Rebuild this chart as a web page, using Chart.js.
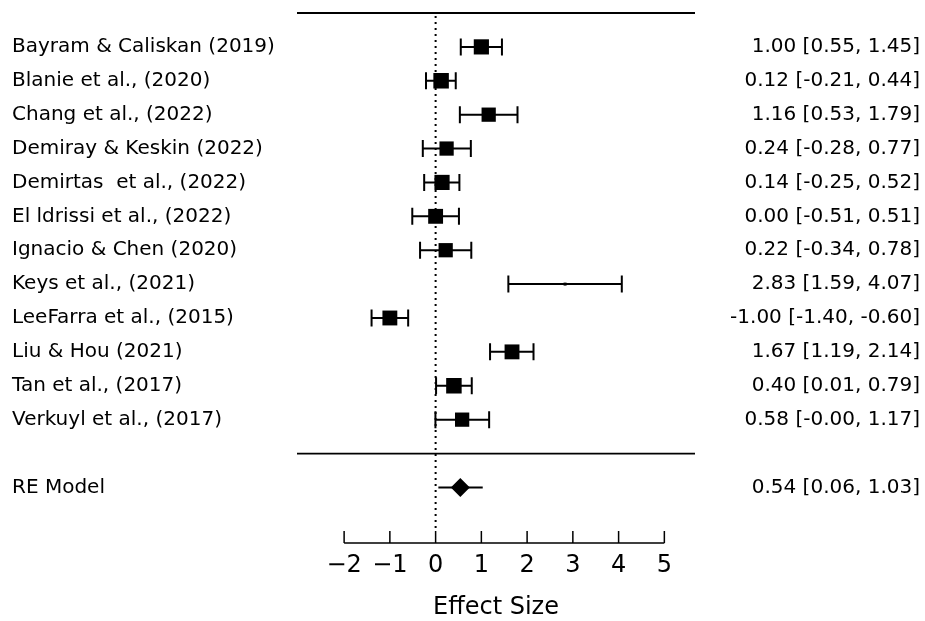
<!DOCTYPE html>
<html>
<head>
<meta charset="utf-8">
<script src="https://cdn.jsdelivr.net/npm/chart.js@4"></script>
<style>
  html, body { margin: 0; padding: 0; background: #fff; }
  canvas { display: block; }
</style>
</head>
<body>
<canvas id="forest" width="925" height="621"></canvas>
<script>
const studies = [
  "Bayram & Caliskan (2019)", "Blanie et al., (2020)", "Chang et al., (2022)",
  "Demiray & Keskin (2022)", "Demirtas  et al., (2022)", "El ldrissi et al., (2022)",
  "Ignacio & Chen (2020)", "Keys et al., (2021)", "LeeFarra et al., (2015)",
  "Liu & Hou (2021)", "Tan et al., (2017)", "Verkuyl et al., (2017)"
];
const estimates = [1.00, 0.12, 1.16, 0.24, 0.14, 0.00, 0.22, 2.83, -1.00, 1.67, 0.40, 0.58];
const lower = [0.55, -0.21, 0.53, -0.28, -0.25, -0.51, -0.34, 1.59, -1.40, 1.19, 0.01, -0.004];
const upper = [1.45, 0.44, 1.79, 0.77, 0.52, 0.51, 0.78, 4.07, -0.60, 2.14, 0.79, 1.17];
const weights = [9.1, 9.2, 8.8, 8.8, 9.1, 9.0, 8.8, 5.2, 9.0, 9.0, 9.2, 8.8];
const reLabel = "RE Model";
const reEstimate = 0.54;
const reLower = 0.06;
const reUpper = 1.03;
const xTicks = [-2, -1, 0, 1, 2, 3, 4, 5];
const xTitle = "Effect Size";

const reRow = studies.length + 1;
const wMin = Math.min(...weights), wMax = Math.max(...weights);
const fmt = (v) => v.toFixed(2);
const ciText = (e, l, u) => `${fmt(e)} [${fmt(l)}, ${fmt(u)}]`;

const labelFont = '20px "DejaVu Sans"';
const tickFont = '24px "DejaVu Sans"';

const forestPlugin = {
  id: "forest",
  beforeDatasetsDraw(chart) {
    const { ctx, chartArea } = chart;
    const x = chart.scales.x, y = chart.scales.y;
    ctx.save();
    // dotted line at 0
    ctx.strokeStyle = "#000";
    ctx.lineWidth = 2;
    ctx.setLineDash([2, 4]);
    ctx.beginPath();
    ctx.moveTo(x.getPixelForValue(0), chartArea.top + 3);
    ctx.lineTo(x.getPixelForValue(0), chartArea.bottom - 11);
    ctx.stroke();
    ctx.setLineDash([]);
    // CIs
    ctx.lineWidth = 2;
    const cap = 8.5;
    estimates.forEach((e, i) => {
      const py = y.getPixelForValue(i);
      const x1 = x.getPixelForValue(lower[i]), x2 = x.getPixelForValue(upper[i]);
      ctx.beginPath();
      ctx.moveTo(x1, py); ctx.lineTo(x2, py);
      ctx.moveTo(x1, py - cap); ctx.lineTo(x1, py + cap);
      ctx.moveTo(x2, py - cap); ctx.lineTo(x2, py + cap);
      ctx.stroke();
    });
    const ry = y.getPixelForValue(reRow);
    ctx.beginPath();
    ctx.moveTo(x.getPixelForValue(reLower), ry);
    ctx.lineTo(x.getPixelForValue(reUpper), ry);
    ctx.stroke();
    ctx.restore();
  },
  afterDraw(chart) {
    const { ctx, chartArea } = chart;
    const x = chart.scales.x, y = chart.scales.y;
    ctx.save();
    ctx.strokeStyle = "#000";
    ctx.fillStyle = "#000";
    ctx.lineWidth = 1.8;
    ctx.beginPath();
    ctx.moveTo(chartArea.left, chartArea.top); ctx.lineTo(chartArea.right, chartArea.top);
    const sy = y.getPixelForValue(studies.length);
    ctx.moveTo(chartArea.left, sy); ctx.lineTo(chartArea.right, sy);
    ctx.stroke();
    // axis
    const ay = chartArea.bottom;
    ctx.lineWidth = 1.5;
    ctx.beginPath();
    ctx.moveTo(x.getPixelForValue(xTicks[0]), ay);
    ctx.lineTo(x.getPixelForValue(xTicks[xTicks.length - 1]), ay);
    xTicks.forEach(t => {
      ctx.moveTo(x.getPixelForValue(t), ay);
      ctx.lineTo(x.getPixelForValue(t), ay - 12);
    });
    ctx.stroke();
    ctx.font = tickFont;
    ctx.textAlign = "center";
    ctx.textBaseline = "middle";
    xTicks.forEach(t => {
      ctx.fillText(String(t).replace("-", "\u2212"), x.getPixelForValue(t), ay + 23);
    });
    ctx.fillText(xTitle, (chartArea.left + chartArea.right) / 2, ay + 65);
    // labels
    ctx.font = labelFont;
    studies.forEach((s, i) => {
      const py = y.getPixelForValue(i);
      ctx.textAlign = "left";
      ctx.fillText(s, 12, py);
      ctx.textAlign = "right";
      ctx.fillText(ciText(estimates[i], lower[i], upper[i]), 920, py);
    });
    const ry = y.getPixelForValue(reRow);
    ctx.textAlign = "left";
    ctx.fillText(reLabel, 12, ry);
    ctx.textAlign = "right";
    ctx.fillText(ciText(reEstimate, reLower, reUpper), 920, ry);
    ctx.restore();
  }
};

new Chart(document.getElementById("forest"), {
  type: "scatter",
  data: {
    datasets: [
      {
        data: estimates.map((e, i) => ({ x: e, y: i })),
        pointStyle: "rect",
        backgroundColor: "#000",
        borderColor: "#000",
        borderWidth: 0,
        // square side grows with study weight
        pointRadius: (c) => (3 + (weights[c.dataIndex] - wMin) / (wMax - wMin) * 12.5) / Math.SQRT2,
      },
      {
        data: [{ x: reEstimate, y: reRow }],
        pointStyle: "rectRot",
        backgroundColor: "#000",
        borderColor: "#000",
        borderWidth: 0,
        pointRadius: 9.5,
      }
    ]
  },
  options: {
    responsive: false,
    animation: false,
    events: [],
    layout: { padding: { left: 297, right: 230, top: 13, bottom: 78 } },
    plugins: { legend: { display: false }, tooltip: { enabled: false } },
    scales: {
      x: { type: "linear", min: -3.03, max: 5.67, display: false },
      y: { type: "linear", min: -1, max: 14.64, reverse: true, display: false }
    }
  },
  plugins: [forestPlugin]
});
</script>
</body>
</html>
